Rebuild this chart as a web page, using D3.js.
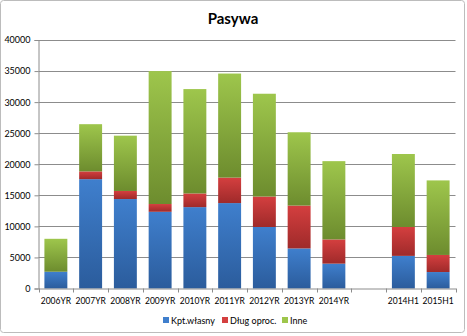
<!DOCTYPE html>
<html><head><meta charset="utf-8">
<script src="https://cdn.jsdelivr.net/npm/d3@7"></script>
<style>body{margin:0;background:#fff}svg{display:block}</style>
</head><body>
<script>
const categories = ["2006YR","2007YR","2008YR","2009YR","2010YR","2011YR","2012YR","2013YR","2014YR","","2014H1","2015H1"];
const kptWlasny = [2700,17600,14400,12350,13100,13750,9900,6450,4000,null,5250,2650];
const dlugOproc = [0,1250,1300,1250,2200,4100,4900,6900,3900,null,4650,2750];
const inne      = [5300,7600,8900,21400,16800,16750,16550,11800,12600,null,11750,12000];
const seriesNames = ["Kpt.własny","Dług oproc.","Inne"];
const yTicks = [0,5000,10000,15000,20000,25000,30000,35000,40000];

const W=467,H=336;
const svg=d3.select("body").append("svg").attr("width",W).attr("height",H);
const defs=svg.append("defs");
const grads=[["#3f7fcd","#2b5c9c"],["#d43f3f","#9f2a2a"],["#9ec64c","#6d8c2e"]];
grads.forEach((g,i)=>{
  const lg=defs.append("linearGradient").attr("id","g"+i).attr("x1",0).attr("y1",0).attr("x2",0).attr("y2",1);
  lg.append("stop").attr("offset","0%").attr("stop-color",g[0]);
  lg.append("stop").attr("offset","100%").attr("stop-color",g[1]);
});
svg.append("rect").attr("x",0.5).attr("y",0.5).attr("width",464).attr("height",332).attr("rx",3)
  .attr("fill","#fff").attr("stroke","#bcbcbc");

const L=38.5,R=455.5,T=40,B=288.5;
const x=d3.scaleBand().domain(categories).range([L,R]).paddingInner(0.34).paddingOuter(0.17);
const y=d3.scaleLinear().domain([0,40000]).range([B,T]);
const font="Lato, 'Liberation Sans', sans-serif";

svg.append("text").attr("x",233).attr("y",24).attr("text-anchor","middle")
  .attr("font-family",font).attr("font-weight","bold").attr("font-size",15).attr("fill","#000").text("Pasywa");

// gridlines
svg.append("g").selectAll("line").data(yTicks.slice(1)).join("line")
  .attr("x1",L).attr("x2",R).attr("y1",d=>Math.round(y(d))+0.5).attr("y2",d=>Math.round(y(d))+0.5)
  .attr("stroke","#8c8c8c").attr("stroke-width",1);

// stacked bars
const rows=categories.map((c,i)=>({cat:c,k:kptWlasny[i],d:dlugOproc[i],n:inne[i]}));
const stack=d3.stack().keys(["k","d","n"]).value((r,k)=>r[k]||0);
const stacked=stack(rows);
stacked.forEach((s,si)=>{
  svg.append("g").selectAll("rect").data(s.filter(p=>p.data.k!==null && p[1]>p[0])).join("rect")
    .attr("x",p=>x(p.data.cat)).attr("width",x.bandwidth())
    .attr("y",p=>y(p[1])).attr("height",p=>y(p[0])-y(p[1]))
    .attr("fill","url(#g"+si+")");
});

// y axis
const ya=svg.append("g").attr("transform",`translate(${L},0)`)
  .call(d3.axisLeft(y).tickValues(yTicks).tickSize(4).tickPadding(4).tickFormat(d3.format("d")));
ya.select(".domain").attr("stroke","#8c8c8c");
ya.selectAll(".tick line").attr("stroke","#8c8c8c");
ya.selectAll("text").attr("font-family",font).attr("font-size",9).attr("fill","#000");

// x axis
const xa=svg.append("g").attr("transform",`translate(0,${B})`)
  .call(d3.axisBottom(x).tickSize(0).tickPadding(9));
xa.select(".domain").attr("stroke","#8c8c8c");
xa.selectAll("text").attr("font-family",font).attr("font-size",8.5).attr("fill","#000");
const step=x.step();
xa.append("g").selectAll("line").data(d3.range(categories.length+1)).join("line")
  .attr("x1",i=>Math.round(L+i*step)+0.5).attr("x2",i=>Math.round(L+i*step)+0.5)
  .attr("y1",0).attr("y2",4).attr("stroke","#8c8c8c");

// legend
const legX=[163,222,282];
const lg=svg.append("g");
seriesNames.forEach((n,i)=>{
  lg.append("rect").attr("x",legX[i]).attr("y",317).attr("width",6).attr("height",6).attr("fill",grads[i][0]);
  lg.append("text").attr("x",legX[i]+8).attr("y",323.5).attr("font-family",font).attr("font-size",9).attr("fill","#000").text(n);
});
</script>
</body></html>
